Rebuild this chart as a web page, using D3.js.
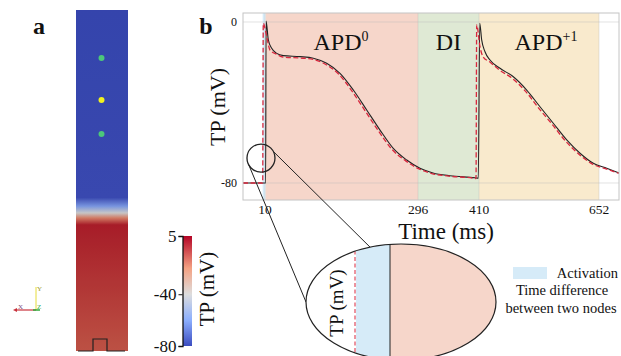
<!DOCTYPE html>
<html>
<head>
<meta charset="utf-8">
<script src="https://cdn.jsdelivr.net/npm/d3@7"></script>
<style>
  body { margin: 0; background: #fff; }
  svg { display: block; }
  text { font-family: "Liberation Serif", "Times New Roman", Times, serif; fill: #111; }
</style>
</head>
<body>
<div id="chart"></div>
<script>
// ---- data ----
const timeTicks = [10, 296, 410, 652];
const tpTicks = [0, -80];
const colorbarTicks = [5, -40, -80];

// node 2 (solid black) and node 1 (dashed red) transmembrane potential
const node2T = [-31, 11.2, 12, 16.2, 22.5, 31.9, 44.2, 75.4, 100.3, 125.3,
  150.2, 175.1, 200.1, 225.0, 249.8, 274.9, 299.7, 324.0, 355.8, 402.5,
  408.7, 411.5, 415.4, 422.1, 432.2, 452.3, 479.2, 506.2, 533.0, 559.8,
  586.9, 613.7, 640.5, 667.5, 692];
const node2V = [-80, -80, 0.5, -8.9, -13.1, -15.6, -16.7, -17.2, -18.0, -20.5,
  -25.5, -33.8, -43.7, -53.7, -62.8, -68.6, -72.7, -75.0, -76.4, -77.4,
  -77.6, -0.6, -8.9, -14.8, -18.9, -23.0, -27.2, -33.8, -42.1, -50.3,
  -58.6, -65.2, -70.2, -72.7, -75.0];

const node1T = [-31, 5.7, 6.8, 11.9, 19.3, 31.9, 43.6, 75.4, 100, 123,
  148, 173, 198, 223, 248, 273, 298, 322, 354, 400,
  404.4, 405.7, 412, 418, 432, 451, 477, 504, 531, 558,
  585, 612, 639, 666, 692];
const node1V = [-80, -80, -0.6, -5.5, -13.9, -16.0, -17.4, -17.9, -18.6, -21,
  -26, -34.5, -44.5, -54.5, -63.5, -69, -73, -75.3, -76.6, -77.6,
  -77.8, -1.5, -12.3, -17.2, -19.9, -23.8, -28, -34.5, -43, -51,
  -59.3, -65.8, -70.6, -73, -75.2];

// shaded phases: activation gap, APD0, DI, APD+1
const phaseStart = [5.7, 11.2, 296, 410];
const phaseEnd = [11.2, 296, 410, 652];
const phaseColor = ['#d6ebf8', '#f6d6ca', '#dfe9d4', '#f9eacd'];
const phaseLabel = ['APD', 'DI', 'APD'];
const phaseSup = ['0', '', '+1'];
const phaseLabelT = [152, 353, 545];

// strand of tissue in panel a: TP along its length (fraction from top)
const strandPos = [0, 0.55, 0.575, 0.595, 0.61, 0.63, 1];
const strandTP = [-80, -79, -62, -40, -15, 3, -6];
const nodeFrac = [0.141, 0.264, 0.364];
const nodeColor = ['#4cc77a', '#f2f21e', '#4cc77a'];

// colour map stops (cool to warm)
const cmapV = [-80, -60, -40, -20, 5];
const cmapC = ['#3b4cc0', '#8caffe', '#dddddd', '#f4a283', '#b40426'];

// ---- drawing ----
const W = 621, H = 356;
const svg = d3.select('#chart').append('svg').attr('width', W).attr('height', H);
const defs = svg.append('defs');

const cmap = d3.scaleLinear().domain(cmapV).range(cmapC).interpolate(d3.interpolateLab);

// panel labels
svg.append('text').attr('x', 39).attr('y', 34).attr('text-anchor', 'middle')
  .attr('font-size', 24).attr('font-weight', 'bold').text('a');
svg.append('text').attr('x', 206).attr('y', 34).attr('text-anchor', 'middle')
  .attr('font-size', 24).attr('font-weight', 'bold').text('b');

// --- panel a: strand ---
const strand = { x: 76, y: 10, w: 52, h: 341 };
const sg = defs.append('linearGradient').attr('id', 'strandGrad')
  .attr('x1', 0).attr('y1', 0).attr('x2', 0).attr('y2', 1);
strandPos.forEach((p, i) => sg.append('stop').attr('offset', p).attr('stop-color', cmap(strandTP[i])));
svg.append('rect').attr('x', strand.x).attr('y', strand.y).attr('width', strand.w).attr('height', strand.h)
  .attr('fill', 'url(#strandGrad)');
svg.append('rect').attr('x', strand.x).attr('y', strand.y).attr('width', strand.w).attr('height', strand.h)
  .attr('fill', '#000').attr('opacity', 0.1);

const strandY = d3.scaleLinear().domain([0, 1]).range([strand.y, strand.y + strand.h]);
svg.selectAll('circle.node').data(nodeFrac).enter().append('circle')
  .attr('class', 'node')
  .attr('cx', strand.x + strand.w / 2 - 0.5)
  .attr('cy', d => strandY(d))
  .attr('r', 3)
  .attr('fill', (d, i) => nodeColor[i]);

// stimulus marker at the bottom
const by = strand.y + strand.h;
svg.append('path')
  .attr('d', `M${strand.x + 2},${by} H${strand.x + 17} V${by - 12} H${strand.x + 31} V${by} H${strand.x + 49}`)
  .attr('fill', 'none').attr('stroke', '#222').attr('stroke-width', 1.2);

// orientation glyph
const ax = svg.append('g').attr('font-size', 7);
ax.append('line').attr('x1', 36).attr('y1', 287).attr('x2', 36).attr('y2', 310).attr('stroke', '#e6dc3a').attr('stroke-width', 1);
ax.append('line').attr('x1', 36).attr('y1', 310).attr('x2', 16).attr('y2', 310).attr('stroke', '#c8323c').attr('stroke-width', 1.2);
ax.append('path').attr('d', 'M13,310 l4,-2 v4 z').attr('fill', '#c8323c');
ax.append('line').attr('x1', 33).attr('y1', 310).attr('x2', 40).attr('y2', 310).attr('stroke', '#2fa83a').attr('stroke-width', 1.5);
ax.append('text').attr('x', 37).attr('y', 291).style('fill', '#9a9a30').text('Y');
ax.append('text').attr('x', 18).attr('y', 309).style('fill', '#7a4a7a').text('X');
ax.append('text').attr('x', 37).attr('y', 309).style('fill', '#2fa83a').text('Z');

// colour bar
const cb = { x: 183, w: 9 };
const cbY = d3.scaleLinear().domain([5, -80]).range([236, 346]);
const cg = defs.append('linearGradient').attr('id', 'cbGrad')
  .attr('x1', 0).attr('y1', 1).attr('x2', 0).attr('y2', 0);
cmapV.forEach((v, i) => cg.append('stop')
  .attr('offset', (v - cmapV[0]) / (5 - cmapV[0]))
  .attr('stop-color', cmapC[i]));
svg.append('rect').attr('x', cb.x).attr('y', cbY(5)).attr('width', cb.w).attr('height', cbY(-80) - cbY(5))
  .attr('fill', 'url(#cbGrad)');
const cbAxis = svg.append('g').attr('transform', `translate(${cb.x - 0.5},0)`)
  .call(d3.axisLeft(cbY).tickValues(colorbarTicks).tickSize(4).tickPadding(2).tickFormat(d => String(d)));
cbAxis.select('.domain').attr('stroke', '#111').attr('stroke-width', 1.3);
cbAxis.selectAll('.tick line').attr('stroke', '#111');
cbAxis.selectAll('.tick text').attr('font-size', 17).style('fill', '#111');
svg.append('text').attr('transform', `translate(214,289) rotate(-90)`)
  .attr('text-anchor', 'middle').attr('font-size', 21).text('TP (mV)');

// --- panel b ---
const plot = { left: 243, right: 619, top: 13, bottom: 200 };
const x = d3.scaleLinear()
  .domain([-31, 10, 296, 410, 652, 692])
  .range([plot.left, 265, 418, 479, 599, plot.right]);
const y = d3.scaleLinear().domain([0, -80]).range([22, 183]);

defs.append('clipPath').attr('id', 'plotClip').append('rect')
  .attr('x', plot.left).attr('y', plot.top)
  .attr('width', plot.right - plot.left).attr('height', plot.bottom - plot.top);

const pg = svg.append('g').attr('clip-path', 'url(#plotClip)');

pg.selectAll('rect.phase').data(phaseStart).enter().append('rect')
  .attr('class', 'phase')
  .attr('x', d => x(d))
  .attr('y', plot.top)
  .attr('width', (d, i) => x(phaseEnd[i]) - x(d))
  .attr('height', plot.bottom - plot.top)
  .attr('fill', (d, i) => phaseColor[i]);

// faint grid
pg.selectAll('line.hgrid').data(tpTicks).enter().append('line')
  .attr('x1', plot.left).attr('x2', plot.right)
  .attr('y1', d => y(d)).attr('y2', d => y(d))
  .attr('stroke', '#bbb').attr('stroke-width', 0.7).attr('opacity', 0.6);
pg.selectAll('line.vgrid').data(timeTicks).enter().append('line')
  .attr('y1', plot.top).attr('y2', plot.bottom)
  .attr('x1', d => x(d)).attr('x2', d => x(d))
  .attr('stroke', '#bbb').attr('stroke-width', 0.7).attr('opacity', 0.5);

const line = d3.line().x(d => x(d[0])).y(d => y(d[1])).curve(d3.curveMonotoneX);
pg.append('path').datum(node2T.map((t, i) => [t, node2V[i]]))
  .attr('d', line).attr('fill', 'none').attr('stroke', '#222').attr('stroke-width', 1.1);
pg.append('path').datum(node1T.map((t, i) => [t, node1V[i]]))
  .attr('d', line).attr('fill', 'none').attr('stroke', '#d8283e').attr('stroke-width', 1.3)
  .attr('stroke-dasharray', '5,2.5');

svg.append('rect').attr('x', plot.left).attr('y', plot.top)
  .attr('width', plot.right - plot.left).attr('height', plot.bottom - plot.top)
  .attr('fill', 'none').attr('stroke', '#c4c4c4').attr('stroke-width', 1);

// phase labels
const lab = svg.selectAll('text.phase').data(phaseLabel).enter().append('text')
  .attr('class', 'phase')
  .attr('x', (d, i) => x(phaseLabelT[i]))
  .attr('y', 50)
  .attr('text-anchor', 'middle')
  .attr('font-size', 24);
lab.append('tspan').text(d => d);
lab.append('tspan').attr('font-size', 14).attr('dy', -9).text((d, i) => phaseSup[i]);

// axes labels
svg.selectAll('text.ytick').data(tpTicks).enter().append('text')
  .attr('class', 'ytick')
  .attr('x', 237).attr('y', d => y(d) + 4)
  .attr('text-anchor', 'end').attr('font-size', 12)
  .text(d => d);
svg.selectAll('text.xtick').data(timeTicks).enter().append('text')
  .attr('class', 'xtick')
  .attr('x', d => x(d)).attr('y', 214)
  .attr('text-anchor', 'middle').attr('font-size', 13.5)
  .text(d => d);
svg.append('text').attr('x', 446).attr('y', 239).attr('text-anchor', 'middle')
  .attr('font-size', 23).text('Time (ms)');
svg.append('text').attr('transform', 'translate(225,107) rotate(-90)')
  .attr('text-anchor', 'middle').attr('font-size', 22).text('TP (mV)');

// magnifier circle around the activation onset
const mag = { t: 2.5, v: -67.6, r: 14 };
const mcx = x(mag.t), mcy = y(mag.v);
svg.append('circle').attr('cx', mcx).attr('cy', mcy).attr('r', mag.r)
  .attr('fill', 'none').attr('stroke', '#222').attr('stroke-width', 1.3);

// zoomed inset
const ell = { cx: 401, cy: 302, rx: 95, ry: 58 };
const ang = a => a * Math.PI / 180;
const c1 = [mcx + mag.r * Math.cos(ang(150)), mcy + mag.r * Math.sin(ang(150))];
const c2 = [mcx + mag.r * Math.cos(ang(-28)), mcy + mag.r * Math.sin(ang(-28))];
const e1 = [ell.cx - ell.rx, ell.cy];
const e2 = [ell.cx + ell.rx * Math.cos(ang(-109)), ell.cy + ell.ry * Math.sin(ang(-109))];
[[c1, e1], [c2, e2]].forEach(([a, b]) => svg.append('line')
  .attr('x1', a[0]).attr('y1', a[1]).attr('x2', b[0]).attr('y2', b[1])
  .attr('stroke', '#222').attr('stroke-width', 1));

defs.append('clipPath').attr('id', 'ellClip').append('ellipse')
  .attr('cx', ell.cx).attr('cy', ell.cy).attr('rx', ell.rx).attr('ry', ell.ry);
const ig = svg.append('g').attr('clip-path', 'url(#ellClip)');
const insetX = d3.scaleLinear().domain([phaseStart[0], phaseEnd[0]]).range([356, 390]);
ig.append('rect').attr('x', ell.cx - ell.rx).attr('y', ell.cy - ell.ry)
  .attr('width', 2 * ell.rx).attr('height', 2 * ell.ry).attr('fill', '#fff');
ig.append('rect').attr('x', insetX(phaseStart[0])).attr('y', ell.cy - ell.ry)
  .attr('width', insetX(phaseEnd[0]) - insetX(phaseStart[0])).attr('height', 2 * ell.ry)
  .attr('fill', phaseColor[0]);
ig.append('rect').attr('x', insetX(phaseEnd[0])).attr('y', ell.cy - ell.ry)
  .attr('width', ell.cx + ell.rx - insetX(phaseEnd[0])).attr('height', 2 * ell.ry)
  .attr('fill', phaseColor[1]);
ig.append('line').attr('x1', insetX(phaseStart[0]) - 1).attr('x2', insetX(phaseStart[0]) - 1)
  .attr('y1', ell.cy - ell.ry).attr('y2', ell.cy + ell.ry)
  .attr('stroke', '#d8283e').attr('stroke-width', 1).attr('stroke-dasharray', '4,2.5');
ig.append('line').attr('x1', insetX(phaseEnd[0])).attr('x2', insetX(phaseEnd[0]))
  .attr('y1', ell.cy - ell.ry).attr('y2', ell.cy + ell.ry)
  .attr('stroke', '#222').attr('stroke-width', 1);
svg.append('ellipse').attr('cx', ell.cx).attr('cy', ell.cy).attr('rx', ell.rx).attr('ry', ell.ry)
  .attr('fill', 'none').attr('stroke', '#222').attr('stroke-width', 1.2);
svg.append('text').attr('transform', 'translate(343,303) rotate(-90)')
  .attr('text-anchor', 'middle').attr('font-size', 19).text('TP (mV)');

// legend
svg.append('rect').attr('x', 513).attr('y', 267).attr('width', 34).attr('height', 12)
  .attr('fill', phaseColor[0]);
svg.append('text').attr('x', 618).attr('y', 278).attr('text-anchor', 'end')
  .attr('font-size', 14.5).text('Activation');
svg.append('text').attr('x', 562).attr('y', 295).attr('text-anchor', 'middle')
  .attr('font-size', 14.5).text('Time difference');
svg.append('text').attr('x', 561).attr('y', 313).attr('text-anchor', 'middle')
  .attr('font-size', 14.5).text('between two nodes');
</script>
</body>
</html>
